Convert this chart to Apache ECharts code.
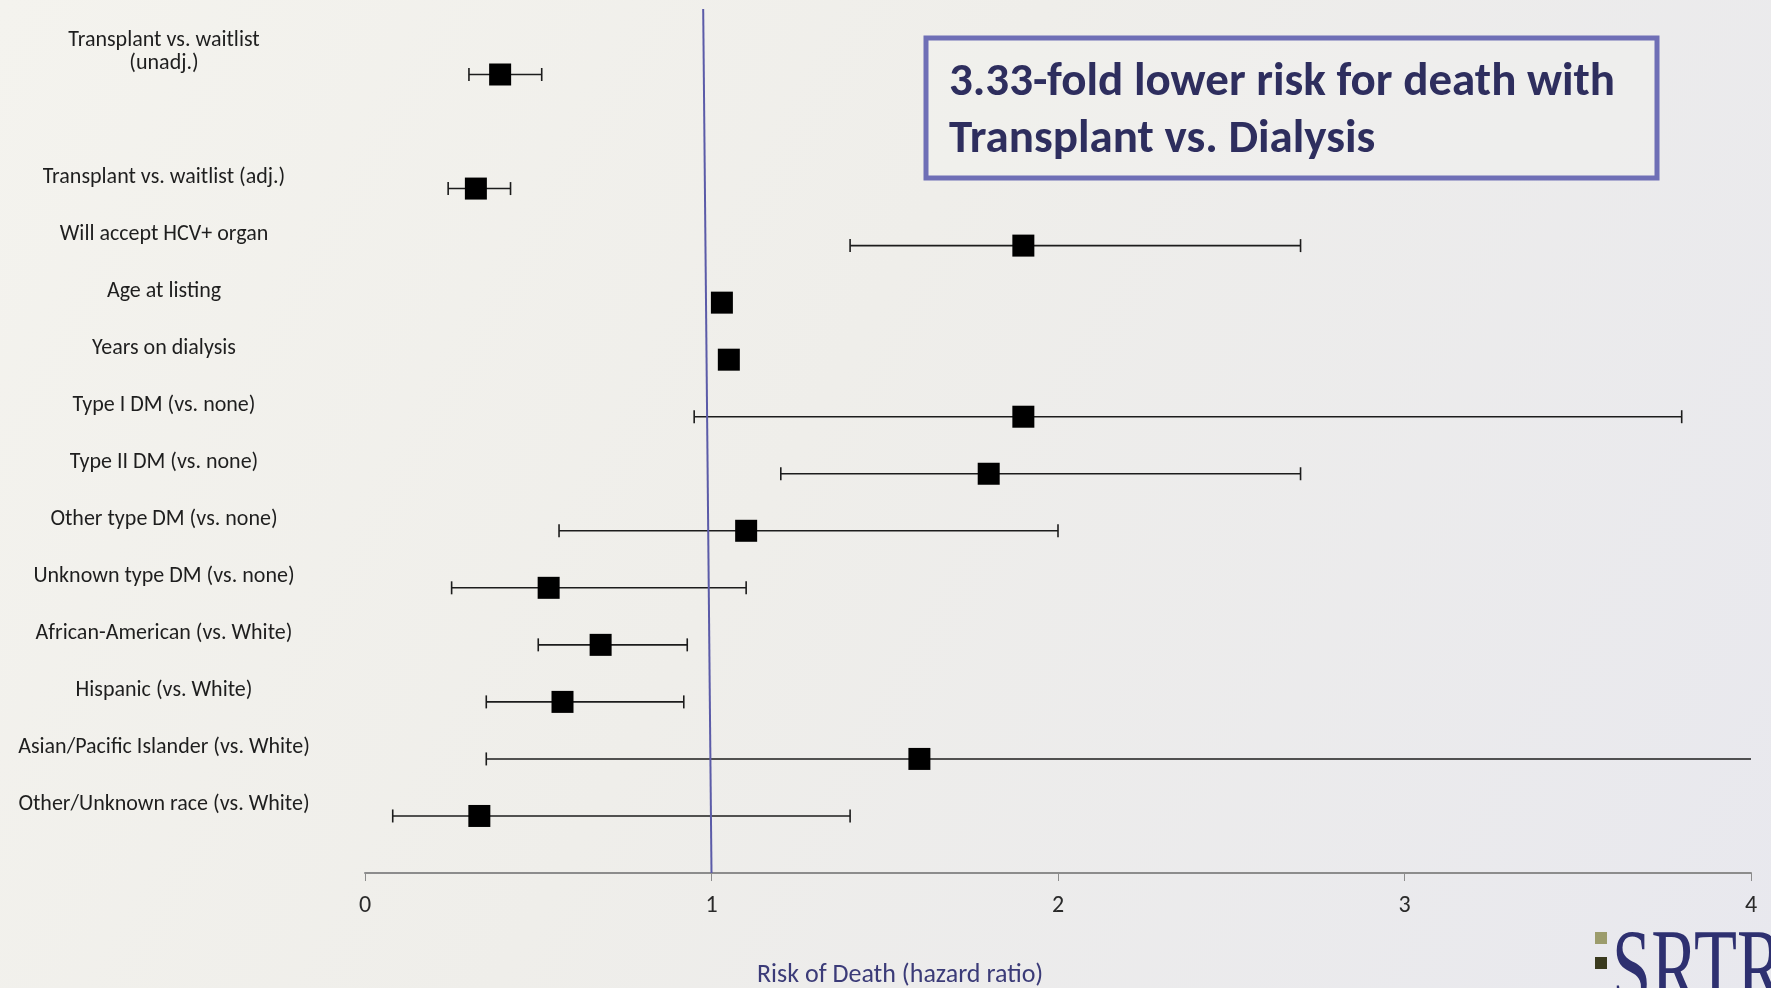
<!DOCTYPE html>
<html>
<head>
<meta charset="utf-8">
<script src="https://cdn.jsdelivr.net/npm/echarts@6/dist/echarts.min.js"></script>
<style>
html,body{margin:0;padding:0;}
#chart{width:1771px;height:988px;}
</style>
</head>
<body>
<div id="chart"></div>
<script>
// ---- data ----
const labels = [
  'Transplant vs. waitlist\n(unadj.)',
  'Transplant vs. waitlist (adj.)',
  'Will accept HCV+ organ',
  'Age at listing',
  'Years on dialysis',
  'Type I DM (vs. none)',
  'Type II DM (vs. none)',
  'Other type DM (vs. none)',
  'Unknown type DM (vs. none)',
  'African-American (vs. White)',
  'Hispanic (vs. White)',
  'Asian/Pacific Islander (vs. White)',
  'Other/Unknown race (vs. White)'
];
const hazardRatio = [0.39, 0.32, 1.90, 1.03, 1.05, 1.90, 1.80, 1.10, 0.53, 0.68, 0.57, 1.60, 0.33];
const ciLow       = [0.30, 0.24, 1.40, 1.02, 1.03, 0.95, 1.20, 0.56, 0.25, 0.50, 0.35, 0.35, 0.08];
const ciHigh      = [0.51, 0.42, 2.70, 1.04, 1.07, 3.80, 2.70, 2.00, 1.10, 0.93, 0.92, 4.60, 1.40];
const xTicks = [0, 1, 2, 3, 4];
const referenceHR = 1;
const headline = '3.33-fold lower risk for death with\nTransplant vs. Dialysis';
const axisTitle = 'Risk of Death (hazard ratio)';

// ---- layout ----
const X_MIN = xTicks[0], X_MAX = xTicks[xTicks.length - 1];
// a gap slot after the first (unadjusted) row, and an empty slot at the bottom by the axis
const yCats = [labels[0], '\u200b', ...labels.slice(1), '\u200b\u200b'];
const FONT = 'Carlito, Lato, "Open Sans", sans-serif';

const pointData = labels.map((l, i) => [hazardRatio[i], l]);
const ciData = labels.map((l, i) => [ciLow[i], ciHigh[i], l]);

const chart = echarts.init(document.getElementById('chart'), null, {renderer: 'canvas'});

chart.setOption({
  backgroundColor: {
    type: 'linear', x: 0, y: 0, x2: 1, y2: 1,
    colorStops: [
      {offset: 0, color: '#f4f3ee'},
      {offset: 0.45, color: '#efeeea'},
      {offset: 1, color: '#e8e8ee'}
    ]
  },
  animation: false,
  grid: {left: 365, right: 20, top: 74.5, bottom: 115},
  xAxis: {
    type: 'value', min: X_MIN, max: X_MAX, interval: 1,
    axisLine: {show: true, lineStyle: {color: '#8c8c8c', width: 2}},
    axisTick: {show: true, length: 8, lineStyle: {color: '#8c8c8c', width: 1}},
    splitLine: {show: false},
    axisLabel: {fontSize: 24, color: '#2a2a2a', margin: 21, fontFamily: FONT}
  },
  yAxis: {
    type: 'category', data: yCats, inverse: true, boundaryGap: false,
    axisLine: {show: false}, axisTick: {show: false}, splitLine: {show: false},
    axisLabel: {
      interval: 0, align: 'center', margin: 201, verticalAlign: 'bottom',
      lineHeight: 23, fontSize: 22, color: '#1e1e1e', fontFamily: FONT
    }
  },
  series: [
    {
      type: 'custom',
      data: ciData,
      encode: {x: [0, 1], y: 2},
      z: 2,
      renderItem: function (params, api) {
        const lo = api.value(0), hi = api.value(1), cat = api.value(2);
        const pLo = api.coord([Math.max(lo, X_MIN), cat]);
        const pHi = api.coord([Math.min(hi, X_MAX), cat]);
        const cap = 6.5;
        const style = {stroke: '#1c1c1c', lineWidth: 1.6, fill: null};
        const children = [
          {type: 'line', shape: {x1: pLo[0], y1: pLo[1], x2: pHi[0], y2: pHi[1]}, style: style}
        ];
        if (lo >= X_MIN) children.push({type: 'line', shape: {x1: pLo[0], y1: pLo[1] - cap, x2: pLo[0], y2: pLo[1] + cap}, style: style});
        if (hi <= X_MAX) children.push({type: 'line', shape: {x1: pHi[0], y1: pHi[1] - cap, x2: pHi[0], y2: pHi[1] + cap}, style: style});
        return {type: 'group', children: children};
      }
    },
    {
      type: 'scatter',
      data: pointData,
      symbol: 'rect',
      symbolSize: 22,
      z: 3,
      itemStyle: {color: '#000000', opacity: 1},
      markLine: {
        silent: true,
        symbol: 'none',
        label: {show: false},
        lineStyle: {color: '#5b5ba8', width: 2, type: 'solid'},
        data: [[{coord: [referenceHR * 0.976, 0], y: 9}, {coord: [referenceHR, yCats.length - 1]}]]
      }
    }
  ],
  graphic: [
    {
      type: 'rect',
      shape: {x: 926, y: 38, width: 731, height: 140},
      style: {fill: 'rgba(244,244,242,0.35)', stroke: '#6f6fb6', lineWidth: 5}
    },
    {
      type: 'text',
      style: {
        text: headline, x: 949, y: 112, verticalAlign: 'middle',
        lineHeight: 57, font: 'bold 47px ' + FONT, fill: '#2e2e5e'
      }
    },
    {
      type: 'text',
      style: {
        text: axisTitle, x: 757, y: 975, verticalAlign: 'middle',
        font: '26px ' + FONT, fill: '#3b3b78'
      }
    },
    {type: 'rect', shape: {x: 1595, y: 932, width: 12, height: 12}, style: {fill: '#9c9c6c'}},
    {type: 'rect', shape: {x: 1595, y: 957, width: 12, height: 12}, style: {fill: '#3a3a1e'}},
    {
      type: 'text', x: 1612, y: 921, scaleX: 0.64,
      style: {text: 'SRTR', x: 0, y: 0, verticalAlign: 'top', font: '110px "Liberation Serif", "DejaVu Serif", serif', fill: '#2e3070'}
    }
  ]
});
</script>
</body>
</html>
